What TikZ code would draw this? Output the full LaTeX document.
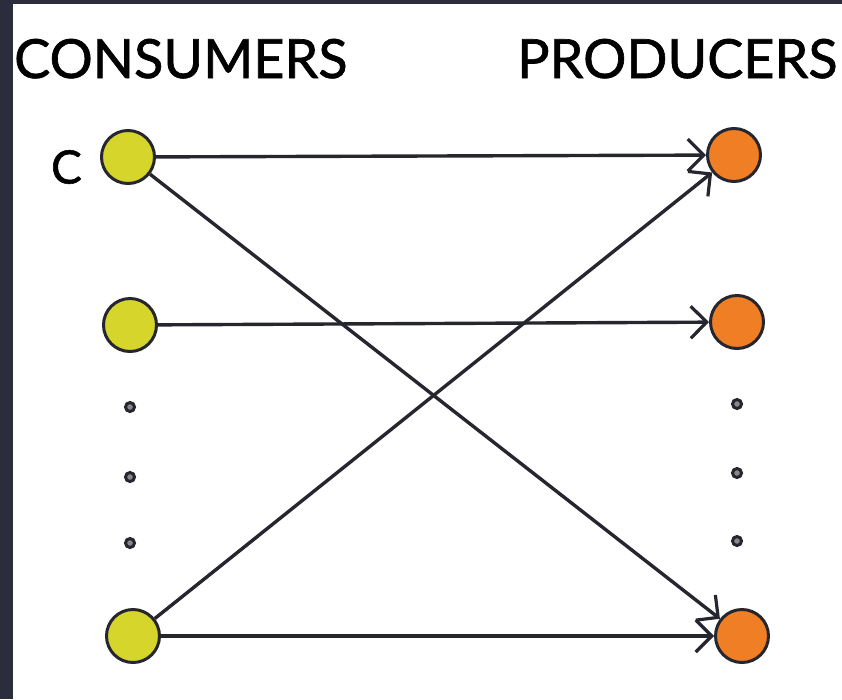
\documentclass[tikz,border=0pt]{standalone}
\usepackage{fontspec}
\setmainfont{Lato}[FakeBold=1.2,BoldFont={Lato}]
\usetikzlibrary{arrows.meta}
\definecolor{frame}{HTML}{2B2C3C}
\definecolor{ink}{HTML}{26262E}
\definecolor{consumer}{HTML}{D6D52C}
\definecolor{producer}{HTML}{EF7E24}
\begin{document}
\begin{tikzpicture}[x=1pt,y=-1pt,
  agent/.style={circle,draw=ink,line width=3pt,minimum size=53pt,inner sep=0pt},
  cons/.style={agent,fill=consumer},
  prod/.style={agent,fill=producer},
  dot/.style={circle,draw=ink,line width=3pt,fill=ink!55,minimum size=9pt,inner sep=0pt},
  heading/.style={font=\fontsize{54}{62}\selectfont\bfseries,text=black,inner sep=0pt,anchor=base west},
  link/.style={draw=ink,line width=3.4pt,-{Straight Barb[length=16pt,width=32pt,line width=3.2pt]}}
]
% page: dark strip on the left and top, white canvas
\fill[frame] (0,0) rectangle (842,699);
\fill[white] (13,4) rectangle (842,699);
\useasboundingbox (0,0) rectangle (842,699);

% column headings
\node[heading] (hc) at (14,78) {CONSUMERS};
\node[heading] (hp) at (517,78) {PRODUCERS};

% consumers
\node[cons] (c1) at (128,157) {};
\node[cons] (c2) at (130,325) {};
\node[cons] (c4) at (133,636) {};
\node[font=\fontsize{46}{52}\selectfont\bfseries,inner sep=0pt,anchor=east] (cl) at (82,167) {C};

% producers
\node[prod] (p1) at (734,155) {};
\node[prod] (p2) at (737,322) {};
\node[prod] (p4) at (742,636) {};

% ellipsis dots
\node[dot] (cd1) at (130,407) {};
\node[dot] (cd2) at (130,477) {};
\node[dot] (cd3) at (130,543) {};
\node[dot] (pd1) at (737,404) {};
\node[dot] (pd2) at (737,473) {};
\node[dot] (pd3) at (737,541) {};

% requests
\draw[link] (c1) -- (p1);
\draw[link] (c1) -- (p4);
\draw[link] (c2) -- (p2);
\draw[link] (c4) -- (p1);
\draw[link] (c4) -- (p4);
\end{tikzpicture}
\end{document}
